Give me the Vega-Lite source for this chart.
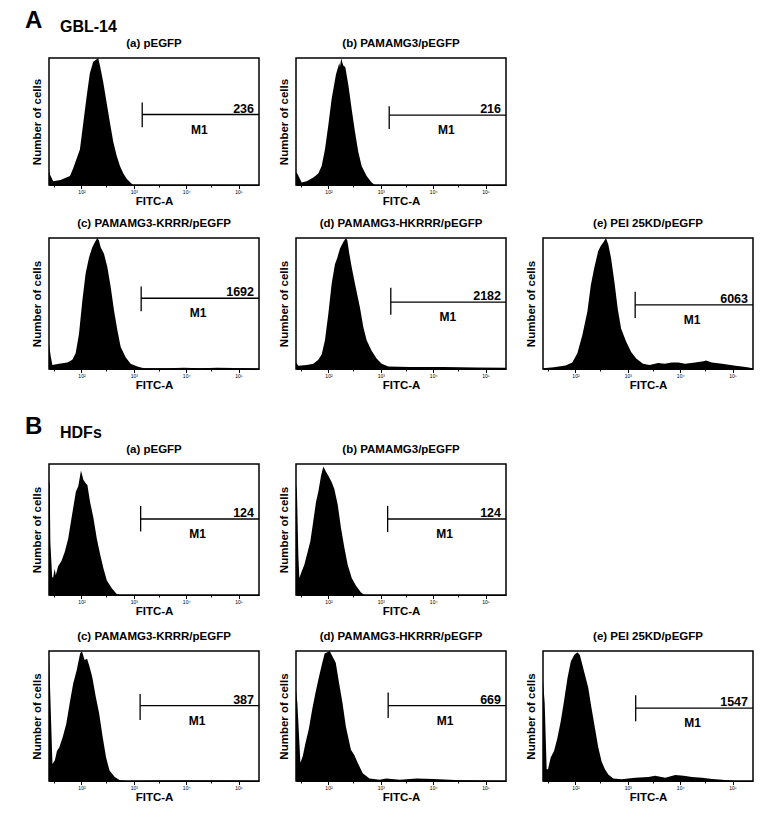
{
"$schema": "https://vega.github.io/schema/vega-lite/v6.json",
"background": "white",
"padding": {"left": 25, "top": 8, "right": 5, "bottom": 5},
"config": {
  "font": "Liberation Sans",
  "view": {"stroke": "black", "strokeWidth": 1.5},
  "title": {"fontSize": 11.5, "fontWeight": "bold", "offset": 9, "color": "black"},
  "axisX": {"grid": false, "domainColor": "black", "tickColor": "black", "tickSize": 3, "labelFontSize": 5, "labelPadding": 1, "labelColor": "black", "titleFontSize": 11.5, "titleFontWeight": "bold", "titleColor": "black", "titlePadding": 1, "labelFlush": false},
  "axisY": {"grid": false, "ticks": false, "labels": false, "domain": false, "titleFontSize": 11.5, "titleFontWeight": "bold", "titleColor": "black", "titlePadding": 7}
},
"datasets": {
  "gates": [
    {"panel": "A_a", "start": 3.16, "end": 5.39, "level": 55.5, "low": 45.5, "high": 65, "count": "236", "gate": "M1"},
    {"panel": "A_b", "start": 3.16, "end": 5.39, "level": 55, "low": 44, "high": 62, "count": "216", "gate": "M1"},
    {"panel": "A_c", "start": 3.14, "end": 5.39, "level": 54, "low": 44, "high": 63, "count": "1692", "gate": "M1"},
    {"panel": "A_d", "start": 3.19, "end": 5.39, "level": 51, "low": 41.5, "high": 62, "count": "2182", "gate": "M1"},
    {"panel": "A_e", "start": 3.14, "end": 5.39, "level": 49, "low": 39, "high": 59, "count": "6063", "gate": "M1"},
    {"panel": "B_a", "start": 3.13, "end": 5.39, "level": 58, "low": 48.5, "high": 68, "count": "124", "gate": "M1"},
    {"panel": "B_b", "start": 3.13, "end": 5.39, "level": 58, "low": 48, "high": 68, "count": "124", "gate": "M1"},
    {"panel": "B_c", "start": 3.12, "end": 5.39, "level": 58, "low": 47, "high": 67, "count": "387", "gate": "M1"},
    {"panel": "B_d", "start": 3.14, "end": 5.39, "level": 58, "low": 48.5, "high": 68, "count": "669", "gate": "M1"},
    {"panel": "B_e", "start": 3.15, "end": 5.39, "level": 56, "low": 46, "high": 66, "count": "1547", "gate": "M1"}
  ],
  "A_a": [{"fitc":1.38,"cells":11},{"fitc":1.40,"cells":8},{"fitc":1.46,"cells":3},{"fitc":1.6,"cells":4},{"fitc":1.78,"cells":7},{"fitc":1.84,"cells":13},{"fitc":1.97,"cells":28},{"fitc":2.035,"cells":49},{"fitc":2.1,"cells":70},{"fitc":2.16,"cells":88},{"fitc":2.225,"cells":97},{"fitc":2.29,"cells":99},{"fitc":2.32,"cells":100},{"fitc":2.353,"cells":94},{"fitc":2.416,"cells":81},{"fitc":2.48,"cells":65},{"fitc":2.544,"cells":49},{"fitc":2.607,"cells":34},{"fitc":2.672,"cells":23},{"fitc":2.735,"cells":15},{"fitc":2.8,"cells":9},{"fitc":2.863,"cells":5},{"fitc":2.958,"cells":1},{"fitc":2.99,"cells":0},{"fitc":5.39,"cells":0}],
  "A_b": [{"fitc":1.38,"cells":10},{"fitc":1.405,"cells":9},{"fitc":1.488,"cells":2},{"fitc":1.584,"cells":3},{"fitc":1.711,"cells":6},{"fitc":1.806,"cells":9},{"fitc":1.87,"cells":15},{"fitc":1.933,"cells":28},{"fitc":1.997,"cells":47},{"fitc":2.061,"cells":68},{"fitc":2.143,"cells":87},{"fitc":2.207,"cells":96},{"fitc":2.22,"cells":93},{"fitc":2.245,"cells":100},{"fitc":2.26,"cells":97},{"fitc":2.283,"cells":94},{"fitc":2.321,"cells":93},{"fitc":2.379,"cells":79},{"fitc":2.442,"cells":60},{"fitc":2.506,"cells":42},{"fitc":2.57,"cells":26},{"fitc":2.633,"cells":15},{"fitc":2.729,"cells":7},{"fitc":2.824,"cells":2},{"fitc":2.888,"cells":0},{"fitc":5.39,"cells":0}],
  "A_c": [{"fitc":1.38,"cells":19},{"fitc":1.412,"cells":10},{"fitc":1.444,"cells":3},{"fitc":1.571,"cells":4},{"fitc":1.73,"cells":5},{"fitc":1.825,"cells":7},{"fitc":1.889,"cells":12},{"fitc":1.953,"cells":27},{"fitc":2.016,"cells":52},{"fitc":2.08,"cells":73},{"fitc":2.143,"cells":85},{"fitc":2.207,"cells":93},{"fitc":2.258,"cells":97},{"fitc":2.302,"cells":100},{"fitc":2.334,"cells":98},{"fitc":2.366,"cells":93},{"fitc":2.43,"cells":88},{"fitc":2.493,"cells":78},{"fitc":2.557,"cells":63},{"fitc":2.62,"cells":45},{"fitc":2.684,"cells":30},{"fitc":2.748,"cells":17},{"fitc":2.843,"cells":9},{"fitc":2.939,"cells":4},{"fitc":3.066,"cells":2},{"fitc":3.193,"cells":0.5},{"fitc":3.638,"cells":0.5},{"fitc":3.956,"cells":1},{"fitc":4.274,"cells":0.5},{"fitc":4.593,"cells":1},{"fitc":4.911,"cells":0.8},{"fitc":5.2,"cells":0.5},{"fitc":5.39,"cells":0.3}],
  "A_d": [{"fitc":1.38,"cells":5},{"fitc":1.425,"cells":2.5},{"fitc":1.584,"cells":3},{"fitc":1.711,"cells":4},{"fitc":1.806,"cells":7},{"fitc":1.87,"cells":11},{"fitc":1.933,"cells":22},{"fitc":1.997,"cells":42},{"fitc":2.061,"cells":65},{"fitc":2.124,"cells":80},{"fitc":2.169,"cells":85},{"fitc":2.22,"cells":92},{"fitc":2.283,"cells":97},{"fitc":2.334,"cells":100},{"fitc":2.36,"cells":98},{"fitc":2.398,"cells":88},{"fitc":2.442,"cells":78},{"fitc":2.506,"cells":65},{"fitc":2.601,"cells":47},{"fitc":2.665,"cells":32},{"fitc":2.729,"cells":22},{"fitc":2.824,"cells":14},{"fitc":2.919,"cells":8},{"fitc":3.015,"cells":4},{"fitc":3.142,"cells":2},{"fitc":3.556,"cells":1.5},{"fitc":4.192,"cells":1.5},{"fitc":4.828,"cells":1.2},{"fitc":5.39,"cells":1}],
  "A_e": [{"fitc":1.38,"cells":0.5},{"fitc":1.586,"cells":1.3},{"fitc":1.811,"cells":2.6},{"fitc":1.939,"cells":5},{"fitc":2.036,"cells":12},{"fitc":2.132,"cells":26},{"fitc":2.228,"cells":44},{"fitc":2.293,"cells":64},{"fitc":2.357,"cells":77},{"fitc":2.434,"cells":90},{"fitc":2.485,"cells":94},{"fitc":2.537,"cells":97},{"fitc":2.582,"cells":100},{"fitc":2.627,"cells":95},{"fitc":2.678,"cells":85},{"fitc":2.742,"cells":67},{"fitc":2.807,"cells":46},{"fitc":2.871,"cells":31},{"fitc":2.967,"cells":21},{"fitc":3.063,"cells":13},{"fitc":3.16,"cells":8},{"fitc":3.289,"cells":4},{"fitc":3.417,"cells":3},{"fitc":3.578,"cells":4.5},{"fitc":3.706,"cells":4},{"fitc":3.835,"cells":5},{"fitc":3.964,"cells":5},{"fitc":4.092,"cells":4},{"fitc":4.285,"cells":5},{"fitc":4.446,"cells":6},{"fitc":4.491,"cells":6.5},{"fitc":4.606,"cells":5},{"fitc":4.799,"cells":4},{"fitc":5.056,"cells":2.5},{"fitc":5.249,"cells":1.5},{"fitc":5.39,"cells":0.5}],
  "B_a": [{"fitc":1.38,"cells":88},{"fitc":1.393,"cells":85},{"fitc":1.406,"cells":40},{"fitc":1.44,"cells":14},{"fitc":1.457,"cells":13},{"fitc":1.489,"cells":20},{"fitc":1.509,"cells":15},{"fitc":1.554,"cells":22},{"fitc":1.618,"cells":26},{"fitc":1.682,"cells":33},{"fitc":1.746,"cells":43},{"fitc":1.811,"cells":59},{"fitc":1.894,"cells":79},{"fitc":1.939,"cells":83},{"fitc":1.991,"cells":95},{"fitc":2.036,"cells":88},{"fitc":2.087,"cells":85},{"fitc":2.113,"cells":84},{"fitc":2.164,"cells":71},{"fitc":2.228,"cells":59},{"fitc":2.293,"cells":43},{"fitc":2.357,"cells":31},{"fitc":2.421,"cells":20},{"fitc":2.485,"cells":11},{"fitc":2.582,"cells":5},{"fitc":2.678,"cells":0.5},{"fitc":2.742,"cells":0},{"fitc":5.39,"cells":0}],
  "B_b": [{"fitc":1.38,"cells":85},{"fitc":1.399,"cells":78},{"fitc":1.425,"cells":30},{"fitc":1.444,"cells":13},{"fitc":1.488,"cells":18},{"fitc":1.539,"cells":23},{"fitc":1.603,"cells":33},{"fitc":1.654,"cells":41},{"fitc":1.698,"cells":53},{"fitc":1.762,"cells":71},{"fitc":1.807,"cells":79},{"fitc":1.858,"cells":91},{"fitc":1.902,"cells":98},{"fitc":1.953,"cells":94},{"fitc":1.998,"cells":91},{"fitc":2.062,"cells":86},{"fitc":2.112,"cells":81},{"fitc":2.176,"cells":69},{"fitc":2.24,"cells":51},{"fitc":2.304,"cells":36},{"fitc":2.367,"cells":23},{"fitc":2.444,"cells":13},{"fitc":2.526,"cells":7},{"fitc":2.622,"cells":2},{"fitc":2.686,"cells":0},{"fitc":5.39,"cells":0}],
  "B_c": [{"fitc":1.38,"cells":96},{"fitc":1.4,"cells":72},{"fitc":1.446,"cells":13},{"fitc":1.492,"cells":16},{"fitc":1.532,"cells":23},{"fitc":1.578,"cells":26},{"fitc":1.644,"cells":34},{"fitc":1.71,"cells":44},{"fitc":1.776,"cells":60},{"fitc":1.842,"cells":75},{"fitc":1.908,"cells":85},{"fitc":1.974,"cells":98},{"fitc":2.007,"cells":100},{"fitc":2.06,"cells":93},{"fitc":2.107,"cells":94},{"fitc":2.153,"cells":88},{"fitc":2.206,"cells":80},{"fitc":2.272,"cells":65},{"fitc":2.338,"cells":52},{"fitc":2.404,"cells":34},{"fitc":2.47,"cells":18},{"fitc":2.536,"cells":8},{"fitc":2.635,"cells":3},{"fitc":2.734,"cells":0.5},{"fitc":2.866,"cells":0},{"fitc":3.5,"cells":0.4},{"fitc":4.2,"cells":0.4},{"fitc":4.8,"cells":0.3},{"fitc":5.39,"cells":0}],
  "B_d": [{"fitc":1.38,"cells":70},{"fitc":1.406,"cells":60},{"fitc":1.464,"cells":14},{"fitc":1.509,"cells":19},{"fitc":1.56,"cells":29},{"fitc":1.625,"cells":40},{"fitc":1.689,"cells":55},{"fitc":1.753,"cells":68},{"fitc":1.818,"cells":80},{"fitc":1.882,"cells":91},{"fitc":1.927,"cells":98},{"fitc":1.978,"cells":99},{"fitc":2.023,"cells":100},{"fitc":2.075,"cells":96},{"fitc":2.139,"cells":91},{"fitc":2.204,"cells":75},{"fitc":2.268,"cells":60},{"fitc":2.332,"cells":42},{"fitc":2.429,"cells":24},{"fitc":2.493,"cells":20},{"fitc":2.558,"cells":14},{"fitc":2.654,"cells":6},{"fitc":2.783,"cells":2},{"fitc":2.976,"cells":1},{"fitc":3.105,"cells":2},{"fitc":3.362,"cells":1},{"fitc":3.684,"cells":2},{"fitc":4.006,"cells":1.5},{"fitc":4.52,"cells":0.5},{"fitc":5.39,"cells":0}],
  "B_e": [{"fitc":1.38,"cells":77},{"fitc":1.412,"cells":60},{"fitc":1.45,"cells":9},{"fitc":1.476,"cells":9},{"fitc":1.527,"cells":18},{"fitc":1.591,"cells":23},{"fitc":1.655,"cells":33},{"fitc":1.719,"cells":46},{"fitc":1.783,"cells":62},{"fitc":1.847,"cells":79},{"fitc":1.911,"cells":92},{"fitc":1.975,"cells":97},{"fitc":2.039,"cells":99},{"fitc":2.083,"cells":97},{"fitc":2.128,"cells":90},{"fitc":2.179,"cells":82},{"fitc":2.243,"cells":72},{"fitc":2.307,"cells":56},{"fitc":2.371,"cells":41},{"fitc":2.435,"cells":26},{"fitc":2.499,"cells":15},{"fitc":2.563,"cells":9},{"fitc":2.627,"cells":5},{"fitc":2.723,"cells":2},{"fitc":2.883,"cells":1.3},{"fitc":3.138,"cells":2.5},{"fitc":3.394,"cells":3},{"fitc":3.522,"cells":4},{"fitc":3.714,"cells":2.5},{"fitc":3.906,"cells":4.6},{"fitc":4.065,"cells":4},{"fitc":4.225,"cells":3},{"fitc":4.417,"cells":2.5},{"fitc":4.609,"cells":1.5},{"fitc":4.801,"cells":1},{"fitc":5.057,"cells":0},{"fitc":5.39,"cells":0}]
},
"bounds": "full",
"spacing": 22,
"vconcat": [
 {"bounds": "full", "spacing": 8,
  "title": {"text": "A", "anchor": "start", "frame": "group", "dx": -24, "fontSize": 24, "offset": -14},
  "vconcat": [
 {"bounds": "flush", "spacing": 37,
  "title": {"text": "GBL-14", "anchor": "start", "frame": "group", "dx": 11, "fontSize": 16, "offset": 2},
  "hconcat": [
   {"width": 210, "height": 127, "title": "(a) pEGFP", "resolve": {"axis": {"x": "independent"}},
    "layer": [
     {"data": {"name": "A_a"}, "mark": {"type": "area", "color": "black"},
      "encoding": {"x": {"field": "fitc", "type": "quantitative", "title": "FITC-A", "scale": {"domain": [1.38, 5.39], "nice": false, "zero": false}, "axis": {"values": [2, 3, 4, 5], "tickSize": 3.5, "labelExpr": "datum.value === 2 ? '10²' : datum.value === 3 ? '10³' : datum.value === 4 ? '10⁴' : '10⁵'"}},
       "y": {"field": "cells", "type": "quantitative", "title": "Number of cells", "scale": {"domain": [0, 100], "nice": false}}}},
     {"data": {"name": "gates"}, "transform": [{"filter": "datum.panel === 'A_a'"}],
      "layer": [
       {"mark": {"type": "rule", "color": "black", "strokeWidth": 1.3}, "encoding": {"x": {"field": "start", "type": "quantitative", "axis": {"orient": "bottom", "title": null, "labels": false, "domain": false, "tickSize": 2, "values": [1.477,1.602,1.699,1.778,1.845,1.903,1.954,2.301,2.477,2.602,2.699,2.778,2.845,2.903,2.954,3.301,3.477,3.602,3.699,3.778,3.845,3.903,3.954,4.301,4.477,4.602,4.699,4.778,4.845,4.903,4.954,5.301]}}, "x2": {"field": "end"}, "y": {"field": "level", "type": "quantitative", "title": "Number of cells"}}},
       {"mark": {"type": "rule", "color": "black", "strokeWidth": 1.3}, "encoding": {"x": {"field": "start", "type": "quantitative", "title": null}, "y": {"field": "low", "type": "quantitative", "title": "Number of cells"}, "y2": {"field": "high"}}},
       {"mark": {"type": "text", "color": "black", "align": "right", "dx": -5, "dy": -6, "fontSize": 12.5, "fontWeight": "bold"}, "encoding": {"x": {"field": "end", "type": "quantitative", "title": null}, "y": {"field": "level", "type": "quantitative", "title": "Number of cells"}, "text": {"field": "count", "type": "nominal"}}},
       {"mark": {"type": "text", "color": "black", "align": "center", "dx": 57, "dy": 15, "fontSize": 12, "fontWeight": "bold"}, "encoding": {"x": {"field": "start", "type": "quantitative", "title": null}, "y": {"field": "level", "type": "quantitative", "title": "Number of cells"}, "text": {"field": "gate", "type": "nominal"}}}
      ]}
    ]},
   {"width": 210, "height": 127, "title": "(b) PAMAMG3/pEGFP", "resolve": {"axis": {"x": "independent"}},
    "layer": [
     {"data": {"name": "A_b"}, "mark": {"type": "area", "color": "black"},
      "encoding": {"x": {"field": "fitc", "type": "quantitative", "title": "FITC-A", "scale": {"domain": [1.38, 5.39], "nice": false, "zero": false}, "axis": {"values": [2, 3, 4, 5], "tickSize": 3.5, "labelExpr": "datum.value === 2 ? '10²' : datum.value === 3 ? '10³' : datum.value === 4 ? '10⁴' : '10⁵'"}},
       "y": {"field": "cells", "type": "quantitative", "title": "Number of cells", "scale": {"domain": [0, 100], "nice": false}}}},
     {"data": {"name": "gates"}, "transform": [{"filter": "datum.panel === 'A_b'"}],
      "layer": [
       {"mark": {"type": "rule", "color": "black", "strokeWidth": 1.3}, "encoding": {"x": {"field": "start", "type": "quantitative", "axis": {"orient": "bottom", "title": null, "labels": false, "domain": false, "tickSize": 2, "values": [1.477,1.602,1.699,1.778,1.845,1.903,1.954,2.301,2.477,2.602,2.699,2.778,2.845,2.903,2.954,3.301,3.477,3.602,3.699,3.778,3.845,3.903,3.954,4.301,4.477,4.602,4.699,4.778,4.845,4.903,4.954,5.301]}}, "x2": {"field": "end"}, "y": {"field": "level", "type": "quantitative", "title": "Number of cells"}}},
       {"mark": {"type": "rule", "color": "black", "strokeWidth": 1.3}, "encoding": {"x": {"field": "start", "type": "quantitative", "title": null}, "y": {"field": "low", "type": "quantitative", "title": "Number of cells"}, "y2": {"field": "high"}}},
       {"mark": {"type": "text", "color": "black", "align": "right", "dx": -5, "dy": -6, "fontSize": 12.5, "fontWeight": "bold"}, "encoding": {"x": {"field": "end", "type": "quantitative", "title": null}, "y": {"field": "level", "type": "quantitative", "title": "Number of cells"}, "text": {"field": "count", "type": "nominal"}}},
       {"mark": {"type": "text", "color": "black", "align": "center", "dx": 57, "dy": 15, "fontSize": 12, "fontWeight": "bold"}, "encoding": {"x": {"field": "start", "type": "quantitative", "title": null}, "y": {"field": "level", "type": "quantitative", "title": "Number of cells"}, "text": {"field": "gate", "type": "nominal"}}}
      ]}
    ]}
  ]},
 {"bounds": "flush", "spacing": 37,
  "hconcat": [
   {"width": 210, "height": 131, "title": "(c) PAMAMG3-KRRR/pEGFP", "resolve": {"axis": {"x": "independent"}},
    "layer": [
     {"data": {"name": "A_c"}, "mark": {"type": "area", "color": "black"},
      "encoding": {"x": {"field": "fitc", "type": "quantitative", "title": "FITC-A", "scale": {"domain": [1.38, 5.39], "nice": false, "zero": false}, "axis": {"values": [2, 3, 4, 5], "tickSize": 3.5, "labelExpr": "datum.value === 2 ? '10²' : datum.value === 3 ? '10³' : datum.value === 4 ? '10⁴' : '10⁵'"}},
       "y": {"field": "cells", "type": "quantitative", "title": "Number of cells", "scale": {"domain": [0, 100], "nice": false}}}},
     {"data": {"name": "gates"}, "transform": [{"filter": "datum.panel === 'A_c'"}],
      "layer": [
       {"mark": {"type": "rule", "color": "black", "strokeWidth": 1.3}, "encoding": {"x": {"field": "start", "type": "quantitative", "axis": {"orient": "bottom", "title": null, "labels": false, "domain": false, "tickSize": 2, "values": [1.477,1.602,1.699,1.778,1.845,1.903,1.954,2.301,2.477,2.602,2.699,2.778,2.845,2.903,2.954,3.301,3.477,3.602,3.699,3.778,3.845,3.903,3.954,4.301,4.477,4.602,4.699,4.778,4.845,4.903,4.954,5.301]}}, "x2": {"field": "end"}, "y": {"field": "level", "type": "quantitative", "title": "Number of cells"}}},
       {"mark": {"type": "rule", "color": "black", "strokeWidth": 1.3}, "encoding": {"x": {"field": "start", "type": "quantitative", "title": null}, "y": {"field": "low", "type": "quantitative", "title": "Number of cells"}, "y2": {"field": "high"}}},
       {"mark": {"type": "text", "color": "black", "align": "right", "dx": -5, "dy": -6, "fontSize": 12.5, "fontWeight": "bold"}, "encoding": {"x": {"field": "end", "type": "quantitative", "title": null}, "y": {"field": "level", "type": "quantitative", "title": "Number of cells"}, "text": {"field": "count", "type": "nominal"}}},
       {"mark": {"type": "text", "color": "black", "align": "center", "dx": 57, "dy": 15, "fontSize": 12, "fontWeight": "bold"}, "encoding": {"x": {"field": "start", "type": "quantitative", "title": null}, "y": {"field": "level", "type": "quantitative", "title": "Number of cells"}, "text": {"field": "gate", "type": "nominal"}}}
      ]}
    ]},
   {"width": 210, "height": 131, "title": "(d) PAMAMG3-HKRRR/pEGFP", "resolve": {"axis": {"x": "independent"}},
    "layer": [
     {"data": {"name": "A_d"}, "mark": {"type": "area", "color": "black"},
      "encoding": {"x": {"field": "fitc", "type": "quantitative", "title": "FITC-A", "scale": {"domain": [1.38, 5.39], "nice": false, "zero": false}, "axis": {"values": [2, 3, 4, 5], "tickSize": 3.5, "labelExpr": "datum.value === 2 ? '10²' : datum.value === 3 ? '10³' : datum.value === 4 ? '10⁴' : '10⁵'"}},
       "y": {"field": "cells", "type": "quantitative", "title": "Number of cells", "scale": {"domain": [0, 100], "nice": false}}}},
     {"data": {"name": "gates"}, "transform": [{"filter": "datum.panel === 'A_d'"}],
      "layer": [
       {"mark": {"type": "rule", "color": "black", "strokeWidth": 1.3}, "encoding": {"x": {"field": "start", "type": "quantitative", "axis": {"orient": "bottom", "title": null, "labels": false, "domain": false, "tickSize": 2, "values": [1.477,1.602,1.699,1.778,1.845,1.903,1.954,2.301,2.477,2.602,2.699,2.778,2.845,2.903,2.954,3.301,3.477,3.602,3.699,3.778,3.845,3.903,3.954,4.301,4.477,4.602,4.699,4.778,4.845,4.903,4.954,5.301]}}, "x2": {"field": "end"}, "y": {"field": "level", "type": "quantitative", "title": "Number of cells"}}},
       {"mark": {"type": "rule", "color": "black", "strokeWidth": 1.3}, "encoding": {"x": {"field": "start", "type": "quantitative", "title": null}, "y": {"field": "low", "type": "quantitative", "title": "Number of cells"}, "y2": {"field": "high"}}},
       {"mark": {"type": "text", "color": "black", "align": "right", "dx": -5, "dy": -6, "fontSize": 12.5, "fontWeight": "bold"}, "encoding": {"x": {"field": "end", "type": "quantitative", "title": null}, "y": {"field": "level", "type": "quantitative", "title": "Number of cells"}, "text": {"field": "count", "type": "nominal"}}},
       {"mark": {"type": "text", "color": "black", "align": "center", "dx": 57, "dy": 15, "fontSize": 12, "fontWeight": "bold"}, "encoding": {"x": {"field": "start", "type": "quantitative", "title": null}, "y": {"field": "level", "type": "quantitative", "title": "Number of cells"}, "text": {"field": "gate", "type": "nominal"}}}
      ]}
    ]},
   {"width": 210, "height": 131, "title": "(e) PEI 25KD/pEGFP", "resolve": {"axis": {"x": "independent"}},
    "layer": [
     {"data": {"name": "A_e"}, "mark": {"type": "area", "color": "black"},
      "encoding": {"x": {"field": "fitc", "type": "quantitative", "title": "FITC-A", "scale": {"domain": [1.38, 5.39], "nice": false, "zero": false}, "axis": {"values": [2, 3, 4, 5], "tickSize": 3.5, "labelExpr": "datum.value === 2 ? '10²' : datum.value === 3 ? '10³' : datum.value === 4 ? '10⁴' : '10⁵'"}},
       "y": {"field": "cells", "type": "quantitative", "title": "Number of cells", "scale": {"domain": [0, 100], "nice": false}}}},
     {"data": {"name": "gates"}, "transform": [{"filter": "datum.panel === 'A_e'"}],
      "layer": [
       {"mark": {"type": "rule", "color": "black", "strokeWidth": 1.3}, "encoding": {"x": {"field": "start", "type": "quantitative", "axis": {"orient": "bottom", "title": null, "labels": false, "domain": false, "tickSize": 2, "values": [1.477,1.602,1.699,1.778,1.845,1.903,1.954,2.301,2.477,2.602,2.699,2.778,2.845,2.903,2.954,3.301,3.477,3.602,3.699,3.778,3.845,3.903,3.954,4.301,4.477,4.602,4.699,4.778,4.845,4.903,4.954,5.301]}}, "x2": {"field": "end"}, "y": {"field": "level", "type": "quantitative", "title": "Number of cells"}}},
       {"mark": {"type": "rule", "color": "black", "strokeWidth": 1.3}, "encoding": {"x": {"field": "start", "type": "quantitative", "title": null}, "y": {"field": "low", "type": "quantitative", "title": "Number of cells"}, "y2": {"field": "high"}}},
       {"mark": {"type": "text", "color": "black", "align": "right", "dx": -5, "dy": -6, "fontSize": 12.5, "fontWeight": "bold"}, "encoding": {"x": {"field": "end", "type": "quantitative", "title": null}, "y": {"field": "level", "type": "quantitative", "title": "Number of cells"}, "text": {"field": "count", "type": "nominal"}}},
       {"mark": {"type": "text", "color": "black", "align": "center", "dx": 57, "dy": 15, "fontSize": 12, "fontWeight": "bold"}, "encoding": {"x": {"field": "start", "type": "quantitative", "title": null}, "y": {"field": "level", "type": "quantitative", "title": "Number of cells"}, "text": {"field": "gate", "type": "nominal"}}}
      ]}
    ]}
  ]}
 ]},
 {"bounds": "full", "spacing": 11,
  "title": {"text": "B", "anchor": "start", "frame": "group", "dx": -24, "fontSize": 24, "offset": -14},
  "vconcat": [
 {"bounds": "flush", "spacing": 37,
  "title": {"text": "HDFs", "anchor": "start", "frame": "group", "dx": 11, "fontSize": 16, "offset": 2},
  "hconcat": [
   {"width": 210, "height": 131, "title": "(a) pEGFP", "resolve": {"axis": {"x": "independent"}},
    "layer": [
     {"data": {"name": "B_a"}, "mark": {"type": "area", "color": "black"},
      "encoding": {"x": {"field": "fitc", "type": "quantitative", "title": "FITC-A", "scale": {"domain": [1.38, 5.39], "nice": false, "zero": false}, "axis": {"values": [2, 3, 4, 5], "tickSize": 3.5, "labelExpr": "datum.value === 2 ? '10²' : datum.value === 3 ? '10³' : datum.value === 4 ? '10⁴' : '10⁵'"}},
       "y": {"field": "cells", "type": "quantitative", "title": "Number of cells", "scale": {"domain": [0, 100], "nice": false}}}},
     {"data": {"name": "gates"}, "transform": [{"filter": "datum.panel === 'B_a'"}],
      "layer": [
       {"mark": {"type": "rule", "color": "black", "strokeWidth": 1.3}, "encoding": {"x": {"field": "start", "type": "quantitative", "axis": {"orient": "bottom", "title": null, "labels": false, "domain": false, "tickSize": 2, "values": [1.477,1.602,1.699,1.778,1.845,1.903,1.954,2.301,2.477,2.602,2.699,2.778,2.845,2.903,2.954,3.301,3.477,3.602,3.699,3.778,3.845,3.903,3.954,4.301,4.477,4.602,4.699,4.778,4.845,4.903,4.954,5.301]}}, "x2": {"field": "end"}, "y": {"field": "level", "type": "quantitative", "title": "Number of cells"}}},
       {"mark": {"type": "rule", "color": "black", "strokeWidth": 1.3}, "encoding": {"x": {"field": "start", "type": "quantitative", "title": null}, "y": {"field": "low", "type": "quantitative", "title": "Number of cells"}, "y2": {"field": "high"}}},
       {"mark": {"type": "text", "color": "black", "align": "right", "dx": -5, "dy": -6, "fontSize": 12.5, "fontWeight": "bold"}, "encoding": {"x": {"field": "end", "type": "quantitative", "title": null}, "y": {"field": "level", "type": "quantitative", "title": "Number of cells"}, "text": {"field": "count", "type": "nominal"}}},
       {"mark": {"type": "text", "color": "black", "align": "center", "dx": 57, "dy": 15, "fontSize": 12, "fontWeight": "bold"}, "encoding": {"x": {"field": "start", "type": "quantitative", "title": null}, "y": {"field": "level", "type": "quantitative", "title": "Number of cells"}, "text": {"field": "gate", "type": "nominal"}}}
      ]}
    ]},
   {"width": 210, "height": 131, "title": "(b) PAMAMG3/pEGFP", "resolve": {"axis": {"x": "independent"}},
    "layer": [
     {"data": {"name": "B_b"}, "mark": {"type": "area", "color": "black"},
      "encoding": {"x": {"field": "fitc", "type": "quantitative", "title": "FITC-A", "scale": {"domain": [1.38, 5.39], "nice": false, "zero": false}, "axis": {"values": [2, 3, 4, 5], "tickSize": 3.5, "labelExpr": "datum.value === 2 ? '10²' : datum.value === 3 ? '10³' : datum.value === 4 ? '10⁴' : '10⁵'"}},
       "y": {"field": "cells", "type": "quantitative", "title": "Number of cells", "scale": {"domain": [0, 100], "nice": false}}}},
     {"data": {"name": "gates"}, "transform": [{"filter": "datum.panel === 'B_b'"}],
      "layer": [
       {"mark": {"type": "rule", "color": "black", "strokeWidth": 1.3}, "encoding": {"x": {"field": "start", "type": "quantitative", "axis": {"orient": "bottom", "title": null, "labels": false, "domain": false, "tickSize": 2, "values": [1.477,1.602,1.699,1.778,1.845,1.903,1.954,2.301,2.477,2.602,2.699,2.778,2.845,2.903,2.954,3.301,3.477,3.602,3.699,3.778,3.845,3.903,3.954,4.301,4.477,4.602,4.699,4.778,4.845,4.903,4.954,5.301]}}, "x2": {"field": "end"}, "y": {"field": "level", "type": "quantitative", "title": "Number of cells"}}},
       {"mark": {"type": "rule", "color": "black", "strokeWidth": 1.3}, "encoding": {"x": {"field": "start", "type": "quantitative", "title": null}, "y": {"field": "low", "type": "quantitative", "title": "Number of cells"}, "y2": {"field": "high"}}},
       {"mark": {"type": "text", "color": "black", "align": "right", "dx": -5, "dy": -6, "fontSize": 12.5, "fontWeight": "bold"}, "encoding": {"x": {"field": "end", "type": "quantitative", "title": null}, "y": {"field": "level", "type": "quantitative", "title": "Number of cells"}, "text": {"field": "count", "type": "nominal"}}},
       {"mark": {"type": "text", "color": "black", "align": "center", "dx": 57, "dy": 15, "fontSize": 12, "fontWeight": "bold"}, "encoding": {"x": {"field": "start", "type": "quantitative", "title": null}, "y": {"field": "level", "type": "quantitative", "title": "Number of cells"}, "text": {"field": "gate", "type": "nominal"}}}
      ]}
    ]}
  ]},
 {"bounds": "flush", "spacing": 37,
  "hconcat": [
   {"width": 210, "height": 130, "title": "(c) PAMAMG3-KRRR/pEGFP", "resolve": {"axis": {"x": "independent"}},
    "layer": [
     {"data": {"name": "B_c"}, "mark": {"type": "area", "color": "black"},
      "encoding": {"x": {"field": "fitc", "type": "quantitative", "title": "FITC-A", "scale": {"domain": [1.38, 5.39], "nice": false, "zero": false}, "axis": {"values": [2, 3, 4, 5], "tickSize": 3.5, "labelExpr": "datum.value === 2 ? '10²' : datum.value === 3 ? '10³' : datum.value === 4 ? '10⁴' : '10⁵'"}},
       "y": {"field": "cells", "type": "quantitative", "title": "Number of cells", "scale": {"domain": [0, 100], "nice": false}}}},
     {"data": {"name": "gates"}, "transform": [{"filter": "datum.panel === 'B_c'"}],
      "layer": [
       {"mark": {"type": "rule", "color": "black", "strokeWidth": 1.3}, "encoding": {"x": {"field": "start", "type": "quantitative", "axis": {"orient": "bottom", "title": null, "labels": false, "domain": false, "tickSize": 2, "values": [1.477,1.602,1.699,1.778,1.845,1.903,1.954,2.301,2.477,2.602,2.699,2.778,2.845,2.903,2.954,3.301,3.477,3.602,3.699,3.778,3.845,3.903,3.954,4.301,4.477,4.602,4.699,4.778,4.845,4.903,4.954,5.301]}}, "x2": {"field": "end"}, "y": {"field": "level", "type": "quantitative", "title": "Number of cells"}}},
       {"mark": {"type": "rule", "color": "black", "strokeWidth": 1.3}, "encoding": {"x": {"field": "start", "type": "quantitative", "title": null}, "y": {"field": "low", "type": "quantitative", "title": "Number of cells"}, "y2": {"field": "high"}}},
       {"mark": {"type": "text", "color": "black", "align": "right", "dx": -5, "dy": -6, "fontSize": 12.5, "fontWeight": "bold"}, "encoding": {"x": {"field": "end", "type": "quantitative", "title": null}, "y": {"field": "level", "type": "quantitative", "title": "Number of cells"}, "text": {"field": "count", "type": "nominal"}}},
       {"mark": {"type": "text", "color": "black", "align": "center", "dx": 57, "dy": 15, "fontSize": 12, "fontWeight": "bold"}, "encoding": {"x": {"field": "start", "type": "quantitative", "title": null}, "y": {"field": "level", "type": "quantitative", "title": "Number of cells"}, "text": {"field": "gate", "type": "nominal"}}}
      ]}
    ]},
   {"width": 210, "height": 130, "title": "(d) PAMAMG3-HKRRR/pEGFP", "resolve": {"axis": {"x": "independent"}},
    "layer": [
     {"data": {"name": "B_d"}, "mark": {"type": "area", "color": "black"},
      "encoding": {"x": {"field": "fitc", "type": "quantitative", "title": "FITC-A", "scale": {"domain": [1.38, 5.39], "nice": false, "zero": false}, "axis": {"values": [2, 3, 4, 5], "tickSize": 3.5, "labelExpr": "datum.value === 2 ? '10²' : datum.value === 3 ? '10³' : datum.value === 4 ? '10⁴' : '10⁵'"}},
       "y": {"field": "cells", "type": "quantitative", "title": "Number of cells", "scale": {"domain": [0, 100], "nice": false}}}},
     {"data": {"name": "gates"}, "transform": [{"filter": "datum.panel === 'B_d'"}],
      "layer": [
       {"mark": {"type": "rule", "color": "black", "strokeWidth": 1.3}, "encoding": {"x": {"field": "start", "type": "quantitative", "axis": {"orient": "bottom", "title": null, "labels": false, "domain": false, "tickSize": 2, "values": [1.477,1.602,1.699,1.778,1.845,1.903,1.954,2.301,2.477,2.602,2.699,2.778,2.845,2.903,2.954,3.301,3.477,3.602,3.699,3.778,3.845,3.903,3.954,4.301,4.477,4.602,4.699,4.778,4.845,4.903,4.954,5.301]}}, "x2": {"field": "end"}, "y": {"field": "level", "type": "quantitative", "title": "Number of cells"}}},
       {"mark": {"type": "rule", "color": "black", "strokeWidth": 1.3}, "encoding": {"x": {"field": "start", "type": "quantitative", "title": null}, "y": {"field": "low", "type": "quantitative", "title": "Number of cells"}, "y2": {"field": "high"}}},
       {"mark": {"type": "text", "color": "black", "align": "right", "dx": -5, "dy": -6, "fontSize": 12.5, "fontWeight": "bold"}, "encoding": {"x": {"field": "end", "type": "quantitative", "title": null}, "y": {"field": "level", "type": "quantitative", "title": "Number of cells"}, "text": {"field": "count", "type": "nominal"}}},
       {"mark": {"type": "text", "color": "black", "align": "center", "dx": 57, "dy": 15, "fontSize": 12, "fontWeight": "bold"}, "encoding": {"x": {"field": "start", "type": "quantitative", "title": null}, "y": {"field": "level", "type": "quantitative", "title": "Number of cells"}, "text": {"field": "gate", "type": "nominal"}}}
      ]}
    ]},
   {"width": 210, "height": 130, "title": "(e) PEI 25KD/pEGFP", "resolve": {"axis": {"x": "independent"}},
    "layer": [
     {"data": {"name": "B_e"}, "mark": {"type": "area", "color": "black"},
      "encoding": {"x": {"field": "fitc", "type": "quantitative", "title": "FITC-A", "scale": {"domain": [1.38, 5.39], "nice": false, "zero": false}, "axis": {"values": [2, 3, 4, 5], "tickSize": 3.5, "labelExpr": "datum.value === 2 ? '10²' : datum.value === 3 ? '10³' : datum.value === 4 ? '10⁴' : '10⁵'"}},
       "y": {"field": "cells", "type": "quantitative", "title": "Number of cells", "scale": {"domain": [0, 100], "nice": false}}}},
     {"data": {"name": "gates"}, "transform": [{"filter": "datum.panel === 'B_e'"}],
      "layer": [
       {"mark": {"type": "rule", "color": "black", "strokeWidth": 1.3}, "encoding": {"x": {"field": "start", "type": "quantitative", "axis": {"orient": "bottom", "title": null, "labels": false, "domain": false, "tickSize": 2, "values": [1.477,1.602,1.699,1.778,1.845,1.903,1.954,2.301,2.477,2.602,2.699,2.778,2.845,2.903,2.954,3.301,3.477,3.602,3.699,3.778,3.845,3.903,3.954,4.301,4.477,4.602,4.699,4.778,4.845,4.903,4.954,5.301]}}, "x2": {"field": "end"}, "y": {"field": "level", "type": "quantitative", "title": "Number of cells"}}},
       {"mark": {"type": "rule", "color": "black", "strokeWidth": 1.3}, "encoding": {"x": {"field": "start", "type": "quantitative", "title": null}, "y": {"field": "low", "type": "quantitative", "title": "Number of cells"}, "y2": {"field": "high"}}},
       {"mark": {"type": "text", "color": "black", "align": "right", "dx": -5, "dy": -6, "fontSize": 12.5, "fontWeight": "bold"}, "encoding": {"x": {"field": "end", "type": "quantitative", "title": null}, "y": {"field": "level", "type": "quantitative", "title": "Number of cells"}, "text": {"field": "count", "type": "nominal"}}},
       {"mark": {"type": "text", "color": "black", "align": "center", "dx": 57, "dy": 15, "fontSize": 12, "fontWeight": "bold"}, "encoding": {"x": {"field": "start", "type": "quantitative", "title": null}, "y": {"field": "level", "type": "quantitative", "title": "Number of cells"}, "text": {"field": "gate", "type": "nominal"}}}
      ]}
    ]}
  ]}
 ]}
]
}
